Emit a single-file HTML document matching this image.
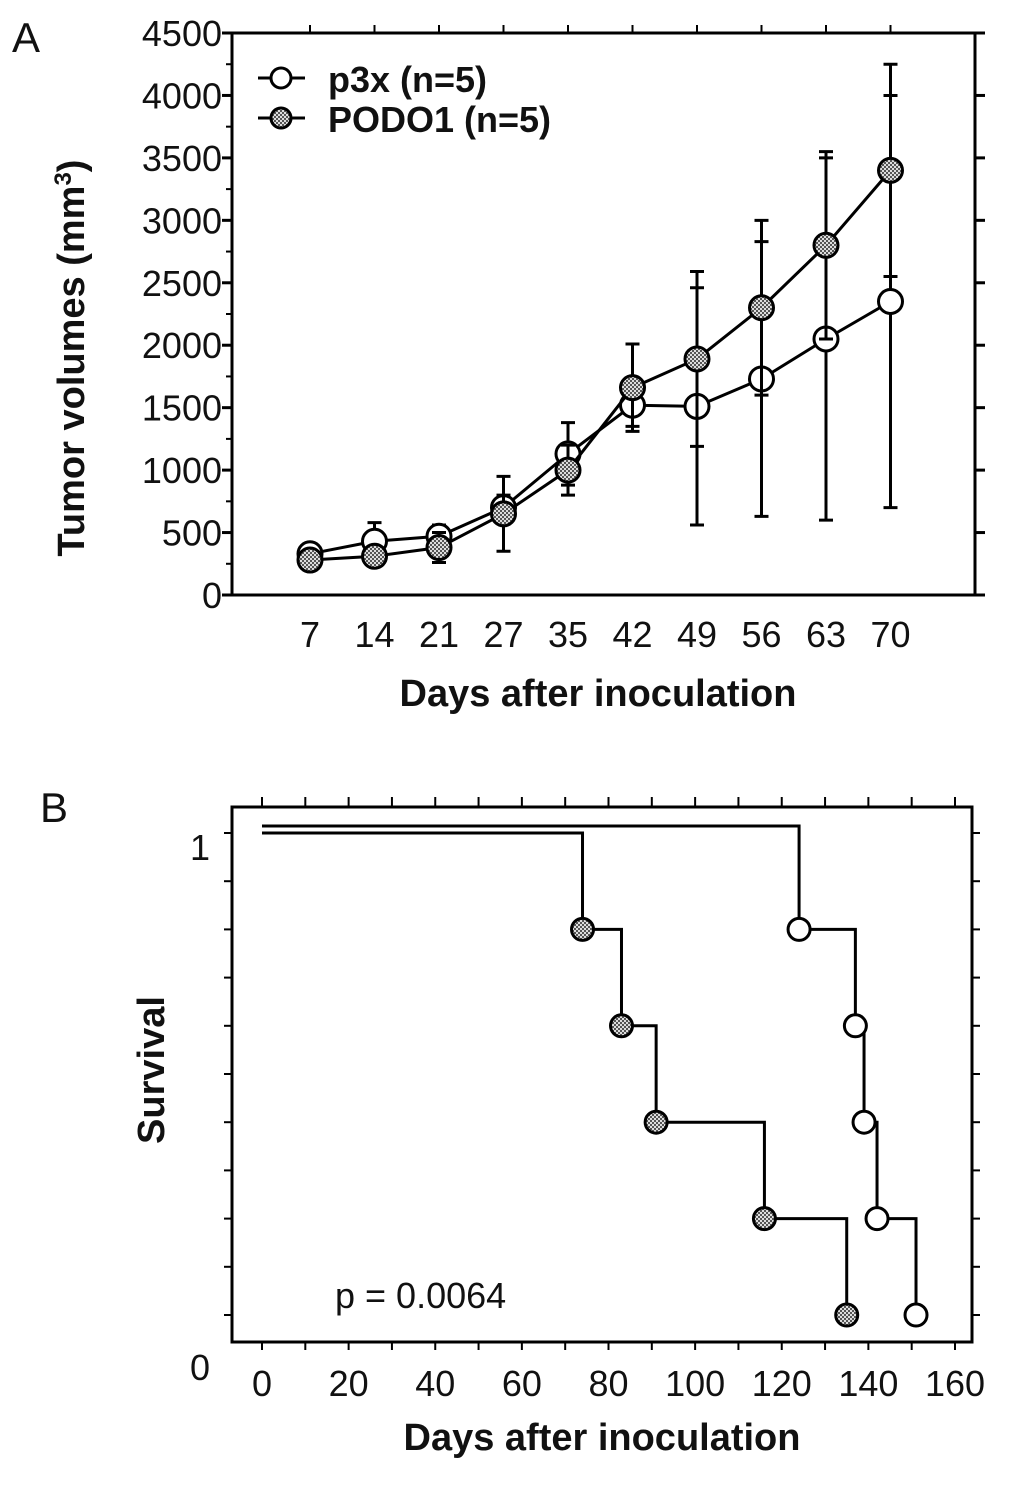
<!DOCTYPE html>
<html><head><meta charset="utf-8"><style>
body{margin:0;background:#fff}
svg text{font-family:"Liberation Sans",Arial,sans-serif;fill:#111}
</style></head><body>
<svg id="chart" width="1014" height="1480" viewBox="0 0 1014 1480" xmlns="http://www.w3.org/2000/svg">
<defs>
<pattern id="hatch" width="4" height="4" patternUnits="userSpaceOnUse"><rect width="4" height="4" fill="#555"/><rect width="2" height="2" fill="#ddd"/><rect x="2" y="2" width="2" height="2" fill="#ddd"/></pattern>
</defs>
<g id="gA"></g>
<g id="gB"></g>
</svg>
<script>
const days = ["7","14","21","27","35","42","49","56","63","70"];
const p3xMean = [330,430,470,700,1130,1520,1510,1730,2050,2350];
const p3xErr = [40,150,90,100,250,170,950,1100,1450,1650];
const podoMean = [280,310,380,650,1000,1660,1890,2300,2800,3400];
const podoErr = [40,60,120,300,200,350,700,700,750,850];
const yTicksA = [0,500,1000,1500,2000,2500,3000,3500,4000,4500];

const p3xTimes = [124,137,139,142,151];
const podoTimes = [74,83,91,116,135];
const survLevels = [0.8,0.6,0.4,0.2,0];
const xTicksB = [0,20,40,60,80,100,120,140,160];

const NS="http://www.w3.org/2000/svg";
function mk(parent,tag,attrs,text){const e=document.createElementNS(NS,tag);for(const k in attrs)e.setAttribute(k,attrs[k]);if(text!==undefined)e.textContent=text;parent.appendChild(e);return e;}
const A=document.getElementById('gA'), B=document.getElementById('gB');

// Panel A
const aL=232,aR=975,aT=33,aB=595;
const xA=i=>310+i*64.5;
const yA=v=>aB-(v/4500)*(aB-aT);
let t=mk(A,'text',{x:12,y:52,'font-size':42});t.textContent='A';

let r=mk(A,'rect',{x:aL,y:aT,width:aR-aL,height:aB-aT,fill:'none',stroke:'#000','stroke-width':3});

yTicksA.forEach(v=>{
  const l=mk(A,'line',{x1:aL-10,x2:aL,y1:yA(v),y2:yA(v),stroke:'#000','stroke-width':3});
  
  mk(A,'line',{x1:aR,x2:aR+10,y1:yA(v),y2:yA(v),stroke:'#000','stroke-width':3});
  const tx=mk(A,'text',{x:aL-10,y:yA(v)+13,'font-size':36,'text-anchor':'end'},String(v));
  
});
for(let i=0;i<9;i++){const y=yA(250+i*500);mk(A,'line',{x1:aL-6,x2:aL,y1:y,y2:y,stroke:'#000','stroke-width':2});}
days.forEach((d,i)=>{
  const tx=mk(A,'text',{x:xA(i),y:647,'font-size':36,'text-anchor':'middle'},d);
  
  mk(A,'line',{x1:xA(i),x2:xA(i),y1:aT,y2:aT-8,stroke:'#000','stroke-width':2});
});
t=mk(A,'text',{x:598,y:706,'font-size':38,'font-weight':'bold','text-anchor':'middle'},'Days  after inoculation');

t=mk(A,'text',{x:0,y:0,'font-size':38,'font-weight':'bold','text-anchor':'middle',transform:'translate(84,358) rotate(-90)'});
t.innerHTML='Tumor volumes  (mm<tspan dy="-13" font-size="24">3</tspan><tspan dy="13">)</tspan>';


function drawSeries(mean,err,fill,name){
  const g=mk(A,'g',{});
  
  mean.forEach((v,i)=>{
    const x=xA(i);
    const e=mk(g,'path',{d:`M${x},${yA(v+err[i])}V${yA(Math.max(0,v-err[i]))}M${x-7},${yA(v+err[i])}H${x+7}M${x-7},${yA(Math.max(0,v-err[i]))}H${x+7}`,stroke:'#000','stroke-width':3,fill:'none'});
    
  });
  const ln=mk(g,'polyline',{points:mean.map((v,i)=>xA(i)+','+yA(v)).join(' '),fill:'none',stroke:'#000','stroke-width':3});
  
  mean.forEach((v,i)=>{
    const c=mk(g,'circle',{cx:xA(i),cy:yA(v),r:12,fill:fill,stroke:'#000','stroke-width':3});
    
  });
}
drawSeries(p3xMean,p3xErr,'#fff','p3x');
drawSeries(podoMean,podoErr,'url(#hatch)','podo1');
// legend
[['p3x (n=5)','#fff',90,'legend-entry-p3x'],['PODO1 (n=5)','url(#hatch)',130,'legend-entry-podo1']].forEach(([lab,f,y,n])=>{
  const g=mk(A,'g',{});
  mk(g,'line',{x1:258,x2:305,y1:y-12,y2:y-12,stroke:'#000','stroke-width':3});
  mk(g,'circle',{cx:281,cy:y-12,r:10,fill:f,stroke:'#000','stroke-width':3});
  mk(g,'text',{x:328,y:y+2,'font-size':36,'font-weight':'bold'},lab);
});

// Panel B
const bL=232,bR=972,bT=807,bB=1342;
const xB=d=>262+d*(955-262)/160;
const yB=s=>1315-s*(1315-833);
t=mk(B,'text',{x:40,y:822,'font-size':42},'B');

r=mk(B,'rect',{x:bL,y:bT,width:bR-bL,height:bB-bT,fill:'none',stroke:'#000','stroke-width':3});

xTicksB.forEach(v=>{
  const tx=mk(B,'text',{x:xB(v),y:1396,'font-size':36,'text-anchor':'middle'},String(v));
  
});
for(let d=0;d<=160;d+=10){mk(B,'line',{x1:xB(d),x2:xB(d),y1:bT,y2:bT-10,stroke:'#000','stroke-width':2});mk(B,'line',{x1:xB(d),x2:xB(d),y1:bB,y2:bB+8,stroke:'#000','stroke-width':2});}
for(let s=0;s<=1.001;s+=0.1){mk(B,'line',{x1:bR,x2:bR+8,y1:yB(s),y2:yB(s),stroke:'#000','stroke-width':2});mk(B,'line',{x1:bL-8,x2:bL,y1:yB(s),y2:yB(s),stroke:'#000','stroke-width':2});}
t=mk(B,'text',{x:210,y:860,'font-size':36,'text-anchor':'end'},'1');
t=mk(B,'text',{x:210,y:1380,'font-size':36,'text-anchor':'end'},'0');
t=mk(B,'text',{x:602,y:1450,'font-size':38,'font-weight':'bold','text-anchor':'middle'},'Days  after inoculation');

t=mk(B,'text',{x:0,y:0,'font-size':38,'font-weight':'bold','text-anchor':'middle',transform:'translate(164,1070) rotate(-90)'},'Survival');

t=mk(B,'text',{x:335,y:1308,'font-size':36},'p = 0.0064');


function km(times,fill,name,yoff){
  const g=mk(B,'g',{});
  let p='M'+xB(0)+','+(yB(1)-yoff)+'H'+xB(times[0])+'V'+yB(survLevels[0]);
  for(let i=1;i<times.length;i++)p+='H'+xB(times[i])+'V'+yB(survLevels[i]);
  const ln=mk(g,'path',{d:p,fill:'none',stroke:'#000','stroke-width':3});
  
  times.forEach((tm,i)=>{
    const c=mk(g,'circle',{cx:xB(tm),cy:yB(survLevels[i]),r:11,fill:fill,stroke:'#000','stroke-width':3});
    
  });
}
km(podoTimes,'url(#hatch)','podo1',0);
km(p3xTimes,'#fff','p3x',7);
</script>
</body></html>
